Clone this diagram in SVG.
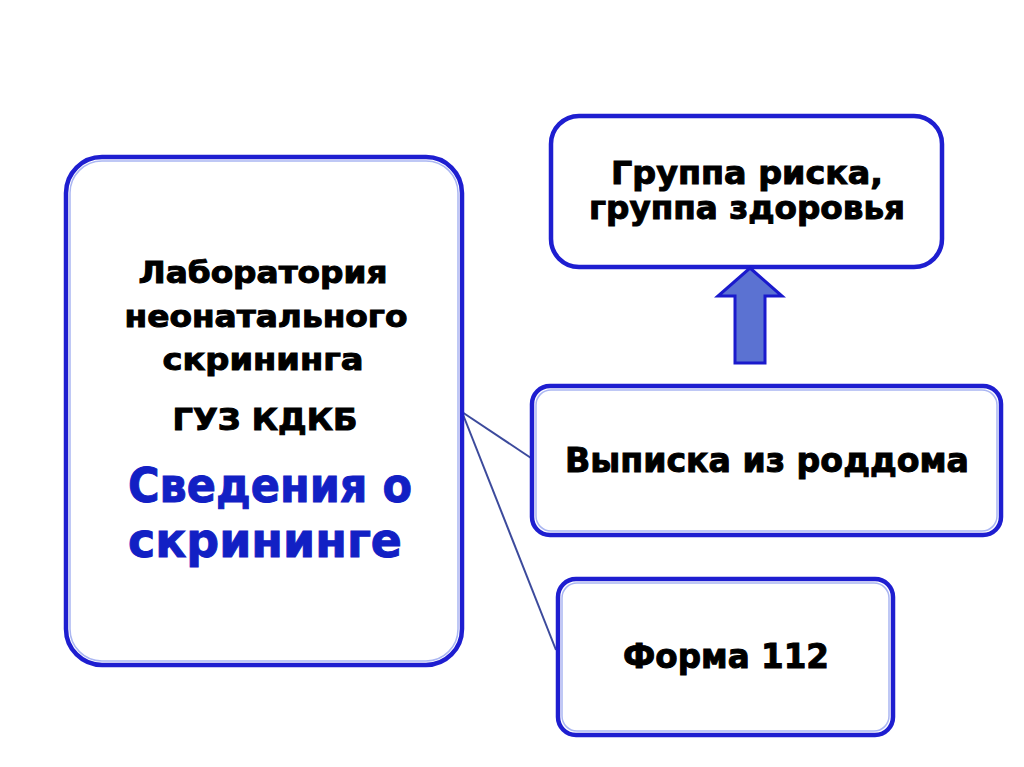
<svg xmlns="http://www.w3.org/2000/svg" width="1024" height="767" viewBox="0 0 1024 767">
<style>
.box{fill:#ffffff;stroke:#1e1ed0;stroke-width:4.5}
.hl{fill:none;stroke:#aab6f2;stroke-width:1.5}
.t{font-family:"DejaVu Sans","Liberation Sans",sans-serif;font-weight:bold;fill:#000;stroke:#000;stroke-width:1;text-anchor:middle}
.b{fill:#1220c4;stroke:#1220c4}
.con{stroke:#3c4a9c;stroke-width:2;fill:none}
</style>
<rect width="1024" height="767" fill="#ffffff"/>
<g id="connectors">
<line class="con" x1="462" y1="412" x2="531" y2="458"/>
<line class="con" x1="462" y1="412" x2="556" y2="650"/>
</g>
<g id="lab">
<rect class="box" x="66" y="157" width="396" height="508" rx="36"/>
<rect class="hl" x="70" y="161" width="388" height="500" rx="32"/>
<text class="t" x="263" y="283" font-size="30" textLength="249" lengthAdjust="spacingAndGlyphs">Лаборатория</text>
<text class="t" x="266" y="327" font-size="30" textLength="283" lengthAdjust="spacingAndGlyphs">неонатального</text>
<text class="t" x="263" y="370" font-size="30" textLength="201" lengthAdjust="spacingAndGlyphs">скрининга</text>
<text class="t" x="265" y="430" font-size="30" textLength="185" lengthAdjust="spacingAndGlyphs">ГУЗ КДКБ</text>
<text class="t b" x="270" y="502" font-size="48" textLength="284" lengthAdjust="spacingAndGlyphs">Сведения о</text>
<text class="t b" x="265" y="557" font-size="48" textLength="274" lengthAdjust="spacingAndGlyphs">скрининге</text>
</g>
<g id="risk">
<rect class="box" x="551" y="116" width="391" height="151" rx="28" stroke-width="5.5"/>
<text class="t" x="747" y="184" font-size="32" textLength="272" lengthAdjust="spacingAndGlyphs">Группа риска,</text>
<text class="t" x="747" y="219" font-size="32" textLength="316" lengthAdjust="spacingAndGlyphs">группа здоровья</text>
</g>
<g id="arrow">
<polygon points="750,268 782,296 765,296 765,363 735,363 735,296 718,296" fill="#5b72d2" stroke="#1a1acc" stroke-width="3" stroke-linejoin="miter"/>
</g>
<g id="discharge">
<rect class="box" x="532" y="386" width="469" height="149" rx="18"/>
<rect class="hl" x="536" y="390" width="461" height="141" rx="15"/>
<text class="t" x="767" y="472" font-size="34" textLength="404" lengthAdjust="spacingAndGlyphs">Выписка из роддома</text>
</g>
<g id="form">
<rect class="box" x="558" y="579" width="335" height="156" rx="18"/>
<rect class="hl" x="562" y="583" width="327" height="148" rx="15"/>
<text class="t" x="726" y="668" font-size="34" textLength="206" lengthAdjust="spacingAndGlyphs">Форма 112</text>
</g>
</svg>
